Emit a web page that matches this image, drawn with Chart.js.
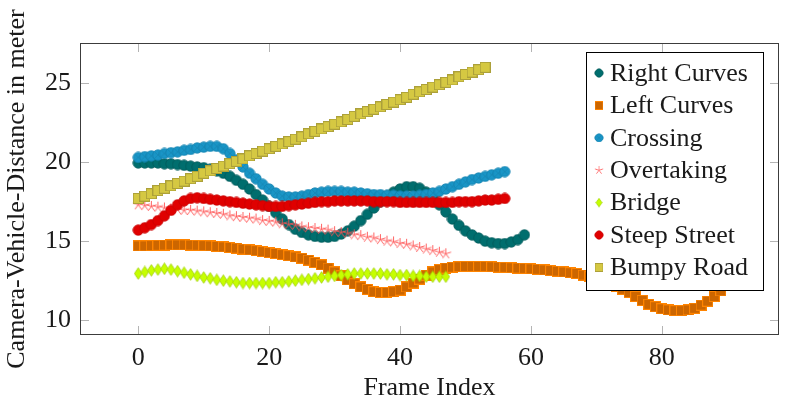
<!DOCTYPE html>
<html>
<head>
<meta charset="utf-8">
<script src="https://cdn.jsdelivr.net/npm/chart.js@4.4.0/dist/chart.umd.min.js"></script>
<style>
  body { margin: 0; background: #fff; }
</style>
</head>
<body>
<canvas id="distChart" width="786" height="404"></canvas>

<script>
  // values, one point per frame index (0, 1, 2, ...)
  var seriesNames = ['Right Curves', 'Left Curves', 'Crossing', 'Overtaking', 'Bridge', 'Steep Street', 'Bumpy Road'];

  var rightCurves = [19.95, 19.95, 19.95, 19.95, 19.9, 19.9, 19.85, 19.8, 19.75, 19.7,
    19.65, 19.55, 19.45, 19.3, 19.1, 18.85, 18.6, 18.3, 17.95, 17.6,
    17.2, 16.8, 16.4, 16.05, 15.75, 15.55, 15.4, 15.3, 15.25, 15.25,
    15.3, 15.45, 15.65, 15.95, 16.3, 16.7, 17.1, 17.5, 17.85, 18.1,
    18.3, 18.45, 18.45, 18.35, 18.1, 17.75, 17.3, 16.85, 16.4, 16.0,
    15.65, 15.4, 15.2, 15.0, 14.9, 14.85, 14.85, 14.95, 15.1, 15.4];

  var leftCurves = [14.7, 14.7, 14.72, 14.74, 14.75, 14.76, 14.76, 14.76, 14.75, 14.74,
    14.72, 14.7, 14.67, 14.64, 14.6, 14.56, 14.5, 14.45, 14.4, 14.34,
    14.28, 14.22, 14.15, 14.08, 14.0, 13.92, 13.8, 13.65, 13.5, 13.3,
    13.05, 12.8, 12.55, 12.3, 12.1, 11.95, 11.8, 11.75, 11.75, 11.8,
    11.9, 12.1, 12.35, 12.6, 12.85, 13.05, 13.2, 13.3, 13.35, 13.38,
    13.4, 13.4, 13.4, 13.4, 13.38, 13.36, 13.34, 13.32, 13.3, 13.28,
    13.25, 13.22, 13.18, 13.14, 13.1, 13.05, 13.0, 12.95, 12.85, 12.75,
    12.65, 12.5, 12.35, 12.15, 11.95, 11.75, 11.5, 11.25, 11.0, 10.85,
    10.72, 10.65, 10.6, 10.6, 10.65, 10.75, 10.95, 11.2, 11.5, 11.85];

  var crossing = [20.3, 20.35, 20.4, 20.45, 20.55, 20.6, 20.65, 20.75, 20.8, 20.9,
    20.95, 21.0, 21.0, 20.85, 20.55, 20.15, 19.7, 19.3, 18.95, 18.6,
    18.3, 18.05, 17.85, 17.8, 17.8, 17.85, 17.95, 18.05, 18.1, 18.15,
    18.15, 18.15, 18.1, 18.1, 18.05, 18.0, 17.95, 17.95, 17.9, 17.9,
    17.85, 17.85, 17.85, 17.9, 17.95, 18.05, 18.15, 18.3, 18.45, 18.6,
    18.75, 18.9, 19.0, 19.1, 19.2, 19.3, 19.4];

  var overtaking = [17.3, 17.25, 17.2, 17.15, 17.1, 17.05, 17.0, 16.95, 16.95, 16.9,
    16.85, 16.8, 16.75, 16.7, 16.6, 16.55, 16.5, 16.45, 16.4, 16.3,
    16.25, 16.2, 16.1, 16.05, 16.0, 15.9, 15.85, 15.8, 15.75, 15.7,
    15.6, 15.55, 15.5, 15.4, 15.35, 15.25, 15.2, 15.1, 15.0, 14.95,
    14.85, 14.8, 14.7, 14.6, 14.5, 14.4, 14.3, 14.2];

  var bridge = [12.95, 13.05, 13.15, 13.2, 13.25, 13.2, 13.1, 13.0, 12.9, 12.8,
    12.7, 12.65, 12.55, 12.5, 12.45, 12.4, 12.35, 12.35, 12.35, 12.35,
    12.35, 12.4, 12.4, 12.45, 12.5, 12.55, 12.6, 12.65, 12.7, 12.75,
    12.8, 12.85, 12.9, 12.95, 12.95, 12.95, 12.95, 12.95, 12.9, 12.9,
    12.85, 12.85, 12.8, 12.8, 12.75, 12.75, 12.75, 12.75];

  var steepStreet = [15.7, 15.85, 16.05, 16.3, 16.6, 16.95, 17.3, 17.55, 17.7, 17.75,
    17.7, 17.65, 17.6, 17.55, 17.5, 17.45, 17.4, 17.35, 17.3, 17.25,
    17.2, 17.2, 17.2, 17.25, 17.3, 17.35, 17.4, 17.45, 17.5, 17.5,
    17.55, 17.55, 17.55, 17.55, 17.55, 17.55, 17.5, 17.5, 17.5, 17.5,
    17.45, 17.45, 17.45, 17.45, 17.45, 17.45, 17.45, 17.45, 17.45, 17.5,
    17.5, 17.5, 17.55, 17.6, 17.6, 17.65, 17.7];

  var bumpyRoad = [17.7, 17.85, 18.0, 18.2, 18.35, 18.5, 18.65, 18.8, 18.95, 19.1,
    19.3, 19.45, 19.6, 19.75, 19.9, 20.05, 20.2, 20.4, 20.55, 20.7,
    20.85, 21.0, 21.15, 21.3, 21.45, 21.6, 21.8, 21.95, 22.1, 22.25,
    22.4, 22.55, 22.7, 22.9, 23.05, 23.2, 23.35, 23.5, 23.65, 23.8,
    23.95, 24.1, 24.3, 24.45, 24.6, 24.75, 24.9, 25.05, 25.2, 25.4,
    25.55, 25.7, 25.85, 26.0];

  var xTicks = [0, 20, 40, 60, 80];
  var yTicks = [10, 15, 20, 25];

  var serif = "'Liberation Serif', 'DejaVu Serif', serif";

  // marker images (pgfplots-like marks)
  function markCanvas(w, h, draw) {
    var c = document.createElement('canvas');
    c.width = w; c.height = h;
    var g = c.getContext('2d');
    draw(g, w / 2, h / 2);
    return c;
  }

  var circleTeal = markCanvas(12, 12, function (g, cx, cy) {
    g.beginPath(); g.arc(cx, cy, 5.2, 0, Math.PI * 2);
    g.fillStyle = '#006e6e'; g.fill();
    g.strokeStyle = '#005a5a'; g.lineWidth = 0.8; g.stroke();
  });
  var circleBlue = markCanvas(12, 12, function (g, cx, cy) {
    g.beginPath(); g.arc(cx, cy, 5.2, 0, Math.PI * 2);
    g.fillStyle = '#1995c6'; g.fill();
    g.strokeStyle = '#1482ae'; g.lineWidth = 0.8; g.stroke();
    g.beginPath();
    g.moveTo(cx - 3.5, cy - 3.5); g.lineTo(cx + 3.5, cy + 3.5);
    g.moveTo(cx + 3.5, cy - 3.5); g.lineTo(cx - 3.5, cy + 3.5);
    g.strokeStyle = 'rgba(20,110,150,0.35)'; g.stroke();
  });
  var circleRed = markCanvas(12, 12, function (g, cx, cy) {
    g.beginPath(); g.arc(cx, cy, 5.2, 0, Math.PI * 2);
    g.fillStyle = '#e00000'; g.fill();
    g.strokeStyle = '#c80000'; g.lineWidth = 0.8; g.stroke();
  });
  var squareOrange = markCanvas(11, 11, function (g, cx, cy) {
    g.fillStyle = '#cc6600'; g.fillRect(0.5, 0.5, 10, 10);
    g.strokeStyle = '#ff8400'; g.lineWidth = 1; g.strokeRect(0.5, 0.5, 10, 10);
  });
  var squareYellow = markCanvas(11, 11, function (g, cx, cy) {
    g.fillStyle = '#d5c842'; g.fillRect(0.5, 0.5, 10, 10);
    g.strokeStyle = '#aca03a'; g.lineWidth = 1; g.strokeRect(0.5, 0.5, 10, 10);
  });
  var diamondLime = markCanvas(9, 13, function (g, cx, cy) {
    g.beginPath();
    g.moveTo(cx, cy - 5.8); g.lineTo(cx + 3.8, cy); g.lineTo(cx, cy + 5.8); g.lineTo(cx - 3.8, cy);
    g.closePath();
    g.fillStyle = '#c6ff00'; g.fill();
    g.strokeStyle = '#9fd000'; g.lineWidth = 0.8; g.stroke();
  });
  var starPink = markCanvas(13, 13, function (g, cx, cy) {
    g.beginPath();
    for (var k = 0; k < 5; k++) {
      var ang = -Math.PI / 2 + k * 2 * Math.PI / 5;
      g.moveTo(cx, cy);
      g.lineTo(cx + 5.5 * Math.cos(ang), cy + 5.5 * Math.sin(ang));
    }
    g.strokeStyle = '#ff5252'; g.lineWidth = 0.9; g.stroke();
  });

  var seriesValues = [rightCurves, leftCurves, crossing, overtaking, bridge, steepStreet, bumpyRoad];
  var seriesMarks = [circleTeal, squareOrange, circleBlue, starPink, diamondLime, circleRed, squareYellow];

  var datasets = seriesNames.map(function (name, s) {
    return {
      label: name,
      data: seriesValues[s].map(function (v, i) { return { x: i, y: v }; }),
      showLine: false,
      pointStyle: seriesMarks[s],
      pointRadius: 6,
      pointHoverRadius: 6,
      order: seriesNames.length - s   // later series on top, as in pgfplots
    };
  });

  // inward ticks on all four sides, frame and the boxed legend
  var pgfFrame = {
    id: 'pgfFrame',
    beforeDatasetsDraw: function (chart) {
      var ctx = chart.ctx, a = chart.chartArea;
      var xs = chart.scales.x, ys = chart.scales.y;
      ctx.save();
      ctx.strokeStyle = '#b4b4b4';
      ctx.lineWidth = 1;
      ctx.beginPath();
      xTicks.forEach(function (v) {
        var px = Math.round(xs.getPixelForValue(v)) + 0.5;
        ctx.moveTo(px, a.bottom); ctx.lineTo(px, a.bottom - 9);
        ctx.moveTo(px, a.top); ctx.lineTo(px, a.top + 9);
      });
      yTicks.forEach(function (v) {
        var py = Math.round(ys.getPixelForValue(v)) + 0.5;
        ctx.moveTo(a.left, py); ctx.lineTo(a.left + 9, py);
        ctx.moveTo(a.right, py); ctx.lineTo(a.right - 9, py);
      });
      ctx.stroke();
      ctx.restore();
    },
    afterDatasetsDraw: function (chart) {
      var ctx = chart.ctx, a = chart.chartArea;
      ctx.save();
      ctx.strokeStyle = '#3c3c3c';
      ctx.lineWidth = 1;
      ctx.strokeRect(a.left + 0.5, a.top + 0.5, a.right - a.left - 1, a.bottom - a.top - 1);

      // legend box
      var lx = 586, ly = 52, lw = 177, lh = 238;
      ctx.fillStyle = '#ffffff';
      ctx.fillRect(lx, ly, lw, lh);
      ctx.strokeStyle = '#000000';
      ctx.strokeRect(lx + 0.5, ly + 0.5, lw, lh);
      ctx.font = '26px ' + serif;
      ctx.fillStyle = '#1a1a1a';
      ctx.textBaseline = 'middle';
      ctx.textAlign = 'left';
      seriesNames.forEach(function (name, s) {
        var cy = 73 + s * 32.4;
        var m = seriesMarks[s];
        var sw = m.width * 0.78, sh = m.height * 0.78;
        ctx.drawImage(m, 599 - sw / 2, cy - sh / 2, sw, sh);
        ctx.fillText(name, 610, cy + 1);
      });
      ctx.restore();
    }
  };

  var ctxD = document.getElementById('distChart').getContext('2d');
  var distChart = new Chart(ctxD, {
    type: 'line',
    data: { datasets: datasets },
    options: {
      responsive: false,
      animation: false,
      events: [],
      layout: { padding: { top: 43, right: 1, left: 0, bottom: 0 } },
      plugins: {
        legend: { display: false },
        tooltip: { enabled: false }
      },
      scales: {
        x: {
          type: 'linear',
          min: -8.9,
          max: 97.9,
          afterBuildTicks: function (s) { s.ticks = xTicks.map(function (v) { return { value: v }; }); },
          afterFit: function (s) { s.height = 69; },
          grid: { display: false, drawTicks: false },
          border: { display: false },
          ticks: {
            padding: 8,
            maxRotation: 0,
            color: '#1a1a1a',
            font: { family: serif, size: 26 }
          },
          title: {
            display: true,
            text: 'Frame Index',
            color: '#1a1a1a',
            padding: { top: 0, bottom: 0 },
            font: { family: serif, size: 26 }
          }
        },
        y: {
          type: 'linear',
          min: 9.06,
          max: 27.54,
          afterBuildTicks: function (s) { s.ticks = yTicks.map(function (v) { return { value: v }; }); },
          afterFit: function (s) { s.width = 80; },
          grid: { display: false, drawTicks: false },
          border: { display: false },
          ticks: {
            padding: 9,
            color: '#1a1a1a',
            font: { family: serif, size: 26 }
          },
          title: {
            display: true,
            text: 'Camera-Vehicle-Distance in meter',
            color: '#1a1a1a',
            padding: { top: 2, bottom: 0 },
            font: { family: serif, size: 26 }
          }
        }
      }
    },
    plugins: [pgfFrame]
  });
</script>
</body>
</html>
